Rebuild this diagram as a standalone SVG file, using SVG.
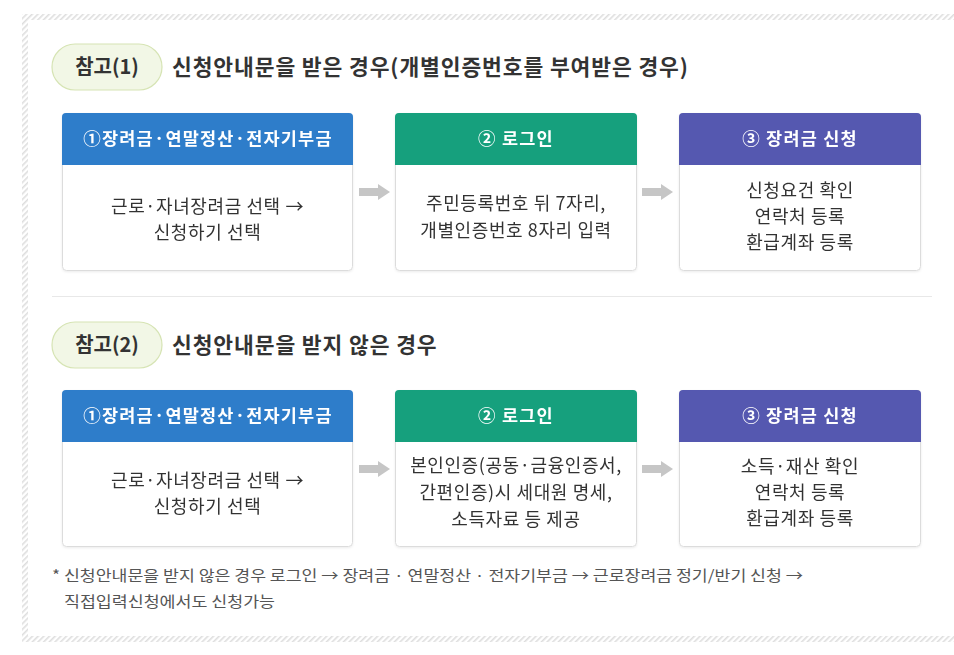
<svg xmlns="http://www.w3.org/2000/svg" width="954" height="655" viewBox="0 0 954 655">
<style>
text{font-family:"Noto Sans CJK KR","Noto Sans",sans-serif;}
.pill{fill:#f2f7e6;stroke:#d6e4b4;stroke-width:1.2;}
.pilltxt{font-size:20px;font-weight:700;fill:#333;text-anchor:middle;}
.title{font-size:21.5px;font-weight:700;fill:#333;letter-spacing:0.9px;}
.box{fill:#fff;stroke:#dcdcdc;stroke-width:1;}
.hd{font-size:17.5px;font-weight:700;fill:#fff;text-anchor:middle;letter-spacing:1.2px;}
.bd{font-size:18px;fill:#333;text-anchor:middle;letter-spacing:0.6px;}
.note{font-size:15px;fill:#555;}
.arr{fill:#c6c6c6;}
</style>
<defs>
<pattern id="hatch" patternUnits="userSpaceOnUse" width="4" height="4" patternTransform="rotate(45)">
<rect width="4" height="4" fill="#fff"/>
<rect width="1.6" height="4" fill="#dedede"/>
</pattern>
<filter id="sh" x="-5%" y="-5%" width="110%" height="115%">
<feDropShadow dx="0" dy="1" stdDeviation="1" flood-color="#000" flood-opacity="0.08"/>
</filter>
<path id="arrow" d="M0,-4 H19 V-8 L31,0 L19,8 V4 H0 Z"/>
</defs>
<rect width="954" height="655" fill="#fff"/>
<g id="frame">
<rect x="22" y="14" width="932" height="6" fill="url(#hatch)"/>
<rect x="22" y="14" width="6" height="628" fill="url(#hatch)"/>
<rect x="22" y="636" width="932" height="6" fill="url(#hatch)"/>
<line x1="52" y1="296.5" x2="932" y2="296.5" stroke="#e8e8e8" stroke-width="1"/>
</g>

<g id="ref1">
<rect class="pill" x="52" y="44" width="110" height="46" rx="23"/>
<text class="pilltxt" x="107" y="74">참고(1)</text>
<text class="title" x="172" y="75">신청안내문을 받은 경우(개별인증번호를 부여받은 경우)</text>
</g>

<g id="r1-step1" filter="url(#sh)">
<rect class="box" x="62.5" y="113.5" width="290" height="157" rx="4"/>
<path d="M62,165 V117 Q62,113 66,113 H349 Q353,113 353,117 V165 Z" fill="#2f7dca"/>
<text class="hd" x="208" y="145">①장려금·연말정산·전자기부금</text>
<text class="bd" x="207.5" y="213">근로·자녀장려금 선택 →</text>
<text class="bd" x="207.5" y="239">신청하기 선택</text>
</g>
<g id="r1-step2" filter="url(#sh)">
<rect class="box" x="395.5" y="113.5" width="241" height="157" rx="4"/>
<path d="M395,165 V117 Q395,113 399,113 H633 Q637,113 637,117 V165 Z" fill="#13a07d"/>
<text class="hd" x="516" y="145">② 로그인</text>
<text class="bd" x="516" y="210">주민등록번호 뒤 7자리,</text>
<text class="bd" x="516" y="237">개별인증번호 8자리 입력</text>
</g>
<g id="r1-step3" filter="url(#sh)">
<rect class="box" x="679.5" y="113.5" width="241" height="157" rx="4"/>
<path d="M679,165 V117 Q679,113 683,113 H917 Q921,113 921,117 V165 Z" fill="#5558b0"/>
<text class="hd" x="800" y="145">③ 장려금 신청</text>
<text class="bd" x="800" y="197">신청요건 확인</text>
<text class="bd" x="800" y="223">연락처 등록</text>
<text class="bd" x="800" y="249">환급계좌 등록</text>
</g>

<g id="ref2">
<rect class="pill" x="52" y="322" width="110" height="46" rx="23"/>
<text class="pilltxt" x="107" y="352">참고(2)</text>
<text class="title" x="172" y="353">신청안내문을 받지 않은 경우</text>
</g>

<g id="r2-step1" filter="url(#sh)">
<rect class="box" x="62.5" y="390.5" width="290" height="156" rx="4"/>
<path d="M62,442 V394 Q62,390 66,390 H349 Q353,390 353,394 V442 Z" fill="#2f7dca"/>
<text class="hd" x="208" y="422">①장려금·연말정산·전자기부금</text>
<text class="bd" x="207.5" y="487">근로·자녀장려금 선택 →</text>
<text class="bd" x="207.5" y="513">신청하기 선택</text>
</g>
<g id="r2-step2" filter="url(#sh)">
<rect class="box" x="395.5" y="390.5" width="241" height="156" rx="4"/>
<path d="M395,442 V394 Q395,390 399,390 H633 Q637,390 637,394 V442 Z" fill="#13a07d"/>
<text class="hd" x="516" y="422">② 로그인</text>
<text class="bd" x="516" y="472">본인인증(공동·금융인증서,</text>
<text class="bd" x="516" y="499">간편인증)시 세대원 명세,</text>
<text class="bd" x="516" y="526">소득자료 등 제공</text>
</g>
<g id="r2-step3" filter="url(#sh)">
<rect class="box" x="679.5" y="390.5" width="241" height="156" rx="4"/>
<path d="M679,442 V394 Q679,390 683,390 H917 Q921,390 921,394 V442 Z" fill="#5558b0"/>
<text class="hd" x="800" y="422">③ 장려금 신청</text>
<text class="bd" x="800" y="473">소득·재산 확인</text>
<text class="bd" x="800" y="499">연락처 등록</text>
<text class="bd" x="800" y="525">환급계좌 등록</text>
</g>

<g id="connectors" class="arr">
<use href="#arrow" x="359" y="192"/>
<use href="#arrow" x="642" y="192"/>
<use href="#arrow" x="359" y="469"/>
<use href="#arrow" x="642" y="469"/>
</g>

<g id="footnote">
<text class="note" x="52" y="581" textLength="751" lengthAdjust="spacingAndGlyphs">* 신청안내문을 받지 않은 경우 로그인 → 장려금 · 연말정산 · 전자기부금 → 근로장려금 정기/반기 신청 →</text>
<text class="note" x="64" y="607" textLength="211" lengthAdjust="spacingAndGlyphs">직접입력신청에서도 신청가능</text>
</g>
</svg>
